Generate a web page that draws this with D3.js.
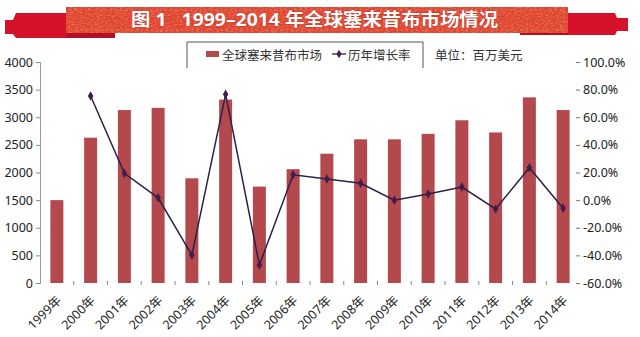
<!DOCTYPE html>
<html>
<head>
<meta charset="utf-8">
<script src="https://cdn.jsdelivr.net/npm/d3@7"></script>
<style>
  html, body { margin: 0; padding: 0; background: #fff; }
  svg { display: block; }
  text { font-family: "Noto Sans", "Noto Sans CJK SC", sans-serif; }
</style>
</head>
<body>
<svg id="chart" width="640" height="337"></svg>
<script>
// Global celecoxib market, 1999–2014 (USD millions) and year-on-year growth
const years = ["1999年","2000年","2001年","2002年","2003年","2004年","2005年","2006年",
               "2007年","2008年","2009年","2010年","2011年","2012年","2013年","2014年"];
const marketValue = [1500, 2630, 3130, 3170, 1895, 3320, 1745, 2060,
                     2340, 2600, 2600, 2700, 2945, 2725, 3360, 3130];
const growthRate = [null, 0.754, 0.194, 0.017, -0.398, 0.766, -0.47, 0.184,
                    0.153, 0.122, 0.0, 0.044, 0.095, -0.064, 0.235, -0.059];
const leftTicks = [0, 500, 1000, 1500, 2000, 2500, 3000, 3500, 4000];
const rightTicks = [-0.6, -0.4, -0.2, 0, 0.2, 0.4, 0.6, 0.8, 1.0];
const titleText = "图 1   1999–2014 年全球塞来昔布市场情况";
const legendBar = "全球塞来昔布市场";
const legendLine = "历年增长率";
const unitText = "单位：百万美元";

const svg = d3.select("#chart");
const barColor = "#b3484d";
const lineColor = "#2b2148";
const markColor = "#3f1d4c";

const plot = { left: 40, right: 580, top: 62, bottom: 283 };

const x = d3.scaleBand().domain(years).range([plot.left, plot.right])
  .paddingInner(0.615).paddingOuter(0.3075);
const yL = d3.scaleLinear().domain([0, 4000]).range([plot.bottom, plot.top]);
const yR = d3.scaleLinear().domain([-0.6, 1.0]).range([plot.bottom, plot.top]);

// ---- title ribbon ----
const defs = svg.append("defs");
const f = defs.append("filter").attr("id", "grain").attr("x", 0).attr("y", 0)
  .attr("width", 1).attr("height", 1);
f.append("feTurbulence").attr("type", "fractalNoise").attr("baseFrequency", "0.35 0.9")
  .attr("numOctaves", 2).attr("seed", 3).attr("result", "noise");
f.append("feColorMatrix").attr("in", "noise").attr("type", "matrix")
  .attr("values", "0 0 0 0 1  0 0 0 0 0.85  0 0 0 0 0.7  0 0 0 1.6 -0.75").attr("result", "spots");
f.append("feComposite").attr("in", "spots").attr("in2", "SourceGraphic").attr("operator", "in");

const ribbon = svg.append("g");
ribbon.append("polygon")
  .attr("points", "5,20 13,20 16,13 115,13 115,38 16,38 13,34 5,34")
  .attr("fill", "#d6122b");
ribbon.append("polygon")
  .attr("points", "520,13 615,13 617,18 628,18 628,31 617,31 615,35 520,35")
  .attr("fill", "#d6122b");
ribbon.append("rect").attr("x", 66).attr("y", 32).attr("width", 49).attr("height", 6).attr("fill", "#b50f24");
ribbon.append("rect").attr("x", 520).attr("y", 32).attr("width", 48).attr("height", 3).attr("fill", "#b50f24");
ribbon.append("rect").attr("x", 66).attr("y", 7).attr("width", 502).attr("height", 26).attr("fill", "#e0462f");
ribbon.append("rect").attr("x", 66).attr("y", 7).attr("width", 502).attr("height", 26)
  .attr("fill", "#e0462f").attr("filter", "url(#grain)").attr("opacity", 0.55);
ribbon.append("rect").attr("x", 70).attr("y", 10).attr("width", 494).attr("height", 20)
  .attr("fill", "none").attr("stroke", "#f3b9a2").attr("stroke-opacity", 0.45)
  .attr("stroke-dasharray", "2,3").attr("stroke-width", 0.8);
ribbon.append("text").attr("x", 131).attr("y", 20).attr("dy", "0.36em")
  .attr("textLength", 367).attr("lengthAdjust", "spacingAndGlyphs")
  .attr("xml:space", "preserve").style("white-space", "pre")
  .attr("font-family", "'Noto Sans CJK SC', sans-serif")
  .attr("font-size", 18).attr("font-weight", "bold").attr("fill", "#fff")
  .style("paint-order", "stroke").attr("stroke", "#a8241a").attr("stroke-width", 0.6)
  .text(titleText);

// ---- legend ----
const lg = svg.append("g").attr("font-family", "'Noto Sans CJK SC', sans-serif")
  .attr("font-size", 12.5).attr("fill", "#333");
lg.append("path").attr("d", "M187,68V42H423V68").attr("fill", "none")
  .attr("stroke", "#555").attr("stroke-width", 1);
lg.append("rect").attr("x", 206).attr("y", 51).attr("width", 13).attr("height", 6).attr("fill", barColor);
lg.append("text").attr("x", 222).attr("y", 55).attr("dy", "0.36em").text(legendBar);
lg.append("line").attr("x1", 332).attr("x2", 346).attr("y1", 54).attr("y2", 54)
  .attr("stroke", lineColor).attr("stroke-width", 1.3);
lg.append("path").attr("d", d3.symbol(d3.symbolDiamond, 22)())
  .attr("transform", "translate(339,54)").attr("fill", markColor);
lg.append("text").attr("x", 348).attr("y", 55).attr("dy", "0.36em").text(legendLine);
lg.append("text").attr("x", 435).attr("y", 55).attr("dy", "0.36em")
  .style("white-space", "pre").text(unitText);

// ---- axes ----
const axL = svg.append("g").attr("transform", `translate(${plot.left},0)`)
  .call(d3.axisLeft(yL).tickValues(leftTicks).tickFormat(d3.format("d")).tickSize(4).tickPadding(3));
axL.select(".domain").attr("stroke", "#999");
axL.selectAll(".tick line").attr("stroke", "#888");
axL.selectAll("text").attr("font-size", 12.5).attr("fill", "#222");

const pct = v => (v * 100).toFixed(1) + "%";
const axR = svg.append("g").attr("transform", `translate(576,0)`)
  .call(d3.axisRight(yR).tickValues(rightTicks).tickFormat(pct).tickSize(4).tickPadding(3));
axR.select(".domain").remove();
axR.selectAll(".tick line").attr("stroke", "#777");
axR.selectAll("text").attr("font-size", 12.5).attr("fill", "#222");

// category boundary ticks along the base
const step = x.step();
svg.append("g").selectAll("line").data(d3.range(1, years.length))
  .join("line")
  .attr("x1", i => plot.left + i * step).attr("x2", i => plot.left + i * step)
  .attr("y1", plot.bottom - 2).attr("y2", plot.bottom + 2)
  .attr("stroke", "#888");

svg.append("g").selectAll("text").data(years).join("text")
  .attr("transform", d => `translate(${x(d) + x.bandwidth() / 2 + 2},${plot.bottom + 15}) rotate(-45)`)
  .attr("text-anchor", "end").attr("dy", "0.36em")
  .attr("font-family", "'Noto Sans', 'Noto Sans CJK SC', sans-serif")
  .attr("font-size", 12.5).attr("fill", "#222")
  .text(d => d);

// ---- bars ----
svg.append("g").selectAll("rect").data(years).join("rect")
  .attr("x", d => x(d)).attr("width", x.bandwidth())
  .attr("y", (d, i) => yL(marketValue[i]))
  .attr("height", (d, i) => yL(0) - yL(marketValue[i]))
  .attr("fill", barColor);

// ---- growth line ----
const pts = years.map((d, i) => ({ d, v: growthRate[i] })).filter(p => p.v !== null);
const line = d3.line().x(p => x(p.d) + x.bandwidth() / 2).y(p => yR(p.v));
svg.append("path").datum(pts).attr("d", line)
  .attr("fill", "none").attr("stroke", lineColor).attr("stroke-width", 1.5);
svg.append("g").selectAll("path").data(pts).join("path")
  .attr("d", d3.symbol(d3.symbolDiamond, 26)())
  .attr("transform", p => `translate(${x(p.d) + x.bandwidth() / 2},${yR(p.v)})`)
  .attr("fill", markColor);
</script>
</body>
</html>
